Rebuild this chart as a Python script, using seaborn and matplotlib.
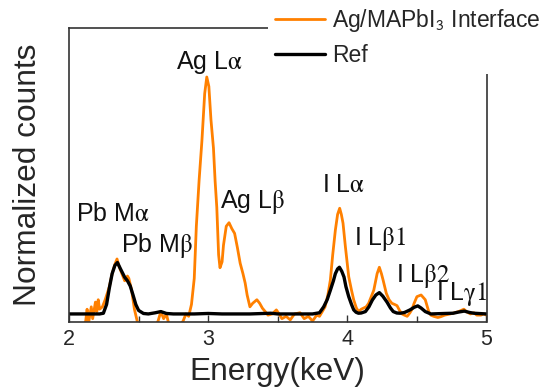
import matplotlib
matplotlib.use("Agg")
import matplotlib.pyplot as plt
import pandas as pd
import seaborn as sns
from matplotlib.ticker import MultipleLocator, FixedLocator

# ---- data ----
interface_energy = [2.00, 2.10, 2.12, 2.13, 2.14, 2.16, 2.17, 2.19, 2.20, 2.21, 2.22, 2.24,
                    2.26, 2.29, 2.31, 2.33, 2.345, 2.36, 2.38, 2.40, 2.42, 2.43, 2.45, 2.47,
                    2.49, 2.52, 2.60, 2.64, 2.66, 2.68, 2.70, 2.72, 2.78, 2.82, 2.84, 2.86,
                    2.88, 2.90, 2.915, 2.935, 2.955, 2.975, 2.99, 3.005, 3.02, 3.038, 3.05,
                    3.062, 3.075, 3.085, 3.10, 3.11, 3.13, 3.15, 3.17, 3.19, 3.21, 3.23,
                    3.25, 3.266, 3.28, 3.30, 3.32, 3.35, 3.37, 3.39, 3.41, 3.43, 3.46, 3.49,
                    3.51, 3.53, 3.56, 3.59, 3.62, 3.66, 3.69, 3.72, 3.75, 3.78, 3.80, 3.82,
                    3.84, 3.86, 3.878, 3.895, 3.914, 3.93, 3.945, 3.957, 3.969, 3.986, 4.00,
                    4.01, 4.03, 4.046, 4.065, 4.081, 4.10, 4.117, 4.135, 4.153, 4.17, 4.19,
                    4.214, 4.23, 4.245, 4.257, 4.28, 4.30, 4.32, 4.34, 4.357, 4.375, 4.393,
                    4.41, 4.43, 4.45, 4.465, 4.48, 4.50, 4.53, 4.56, 4.585, 4.60, 4.62, 4.65,
                    4.67, 4.70, 4.74, 4.77, 4.80, 4.837, 4.86, 4.885, 4.91, 4.93, 4.96, 4.98,
                    5.00]
interface_counts = [-0.08, -0.06, -0.03, 0.02, -0.04, 0.03, -0.02, 0.05, 0.01, 0.06, 0.02, 0.03,
                    0.06, 0.115, 0.17, 0.21, 0.232, 0.20, 0.17, 0.14, 0.16, 0.15, 0.10, 0.02,
                    -0.03, -0.07, -0.07, -0.03, 0.01, -0.02, 0.00, -0.05, -0.06, -0.03, 0.00, -0.01,
                    0.04, 0.15, 0.37, 0.565, 0.73, 0.93, 1.00, 0.96, 0.82, 0.70, 0.56,
                    0.45, 0.25, 0.195, 0.22, 0.29, 0.37, 0.385, 0.36, 0.34, 0.28, 0.214,
                    0.17, 0.13, 0.08, 0.03, 0.045, 0.06, 0.045, 0.024, 0.01, -0.005, 0.00, 0.017,
                    0.00, -0.02, -0.01, -0.025, 0.00, 0.005, -0.02, -0.01, -0.03, -0.005, -0.01, 0.01,
                    0.03, 0.08, 0.143, 0.25, 0.354, 0.42, 0.446, 0.42, 0.383, 0.284, 0.21,
                    0.157, 0.10, 0.059, 0.025, 0.01, 0.02, 0.025, 0.03, 0.045, 0.07, 0.10,
                    0.17, 0.197, 0.17, 0.143, 0.087, 0.06, 0.045, 0.04, 0.035, 0.015, 0.00,
                    -0.005, -0.01, 0.005, 0.02, 0.045, 0.073, 0.08, 0.06, 0.01, -0.005, -0.01, -0.015,
                    -0.012, -0.005, 0.00, 0.005, 0.01, 0.02, 0.008, 0.00, 0.005, -0.005, -0.005, 0.00,
                    -0.005]

ref_energy = [2.00, 2.22, 2.247, 2.27, 2.29, 2.31, 2.33, 2.348, 2.37, 2.40, 2.42, 2.44,
              2.46, 2.48, 2.50, 2.535, 2.57, 2.62, 2.66, 2.70, 2.75, 2.90, 3.00, 3.10,
              3.30, 3.45, 3.50, 3.75, 3.80, 3.83, 3.855, 3.878, 3.90, 3.914, 3.93, 3.943,
              3.96, 3.976, 3.99, 4.01, 4.03, 4.046, 4.063, 4.08, 4.10, 4.13, 4.155, 4.18,
              4.205, 4.23, 4.255, 4.285, 4.31, 4.33, 4.355, 4.38, 4.41, 4.45, 4.48, 4.506,
              4.53, 4.56, 4.60, 4.70, 4.76, 4.80, 4.84, 4.88, 4.91, 5.00]
ref_counts = [0.00, 0.00, 0.003, 0.04, 0.11, 0.17, 0.205, 0.217, 0.19, 0.155, 0.14, 0.118,
              0.08, 0.04, 0.015, 0.002, 0.00, 0.005, 0.01, 0.002, 0.00, 0.00, 0.002, 0.00,
              0.00, 0.003, 0.00, 0.00, 0.005, 0.03, 0.06, 0.10, 0.14, 0.17, 0.19, 0.197,
              0.18, 0.156, 0.115, 0.073, 0.04, 0.017, 0.007, 0.003, 0.004, 0.01, 0.03, 0.059,
              0.08, 0.09, 0.075, 0.05, 0.025, 0.01, 0.004, 0.003, 0.006, 0.017, 0.028, 0.034,
              0.025, 0.01, 0.00, 0.002, 0.003, 0.008, 0.012, 0.006, 0.003, 0.00]

series_names = ["Ag/MAPbI$_\\mathsf{3}$ Interface", "Ref"]
peak_labels = ["Pb M$\\mathrm{\\alpha}$", "Pb M$\\mathrm{\\beta}$", "Ag L$\\mathrm{\\alpha}$",
               "Ag L$\\mathrm{\\beta}$", "I L$\\mathrm{\\alpha}$", "I L$\\mathrm{\\beta 1}$",
               "I L$\\mathrm{\\beta 2}$", "I L$\\mathrm{\\gamma 1}$"]
peak_label_x = [2.313, 2.635, 3.007, 3.316, 3.97, 4.233, 4.547, 4.825]
peak_label_y = [0.42, 0.29, 1.063, 0.474, 0.544, 0.315, 0.160, 0.083]
x_ticks = [2, 3, 4, 5]
x_tick_labels = ["2", "3", "4", "5"]

# ---- style ----
sns.set_theme(style="white")
plt.rcParams["font.family"] = ["Liberation Sans", "DejaVu Sans"]
plt.rcParams["mathtext.fontset"] = "stix"

W, H = 552, 392
fig = plt.figure(figsize=(W / 100, H / 100), dpi=100)
L, R, T, B = 69, 486.5, 27.7, 322
ax = fig.add_axes([L / W, 1 - B / H, (R - L) / W, (B - T) / H])

df_int = pd.DataFrame({"Energy": interface_energy, "Counts": interface_counts})
df_ref = pd.DataFrame({"Energy": ref_energy, "Counts": ref_counts})
sns.lineplot(data=df_int, x="Energy", y="Counts", ax=ax, color="#FF8000",
             linewidth=2.0, label=series_names[0], sort=False, estimator=None)
sns.lineplot(data=df_ref, x="Energy", y="Counts", ax=ax, color="black",
             linewidth=2.4, label=series_names[1], sort=False, estimator=None)

ax.set_xlim(2, 5)
ax.set_ylim(-0.034, 1.208)
ax.set_yticks([])
ax.xaxis.set_major_locator(FixedLocator(x_ticks))
ax.set_xticklabels(x_tick_labels)
ax.xaxis.set_minor_locator(MultipleLocator(0.5))
ax.tick_params(axis="x", which="major", direction="in", length=5, width=1,
               color="#333333", labelsize=15.5, pad=5, bottom=True)
ax.tick_params(axis="x", which="minor", direction="in", length=4, width=1,
               color="#333333", bottom=True)

for s in ax.spines.values():
    s.set_visible(True)
    s.set_color("#333333")
    s.set_linewidth(1.2)

ax.set_xlabel("Energy(keV)", fontsize=22.8)
ax.set_ylabel("Normalized counts", fontsize=22.8)
ax.xaxis.set_label_coords(0.5, -0.12)
ax.yaxis.set_label_coords(-0.062, 0.5)

for lab, x, y in zip(peak_labels, peak_label_x, peak_label_y):
    ax.text(x, y, lab, fontsize=18, ha="center", va="center", color="#111111")

leg = ax.legend(loc="upper left", bbox_to_anchor=(268 / W, 1.0),
                bbox_transform=fig.transFigure, fontsize=16.5, frameon=True,
                fancybox=False, framealpha=1, facecolor="white", edgecolor="none",
                handlelength=2.2, handletextpad=0.3, labelspacing=0.45,
                borderpad=0.3, borderaxespad=0)
leg.set_zorder(10)

fig.savefig("out.png", dpi=100)
